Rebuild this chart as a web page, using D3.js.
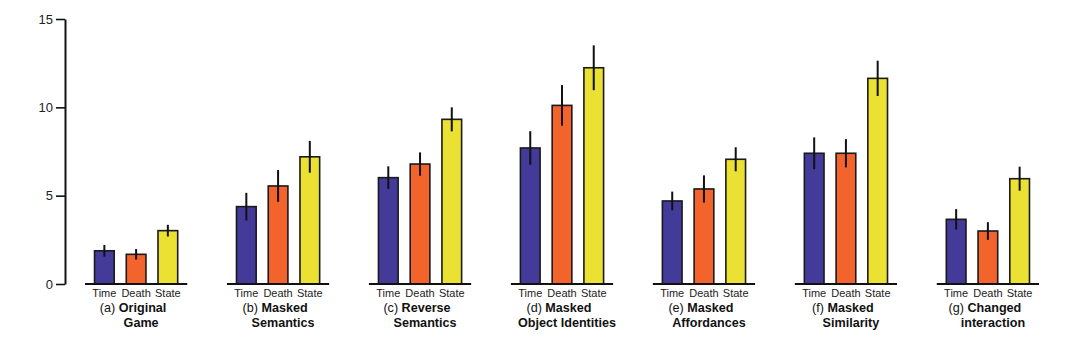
<!DOCTYPE html>
<html>
<head>
<meta charset="utf-8">
<script src="https://cdn.jsdelivr.net/npm/d3@7"></script>
<style>
  html, body { margin: 0; padding: 0; background: #ffffff; }
  svg { display: block; }
</style>
</head>
<body>
<svg id="chart" width="1080" height="357"></svg>
<script>
// ---- data ----
const groups = ["a", "b", "c", "d", "e", "f", "g"];
const groupPrefix = ["(a) ", "(b) ", "(c) ", "(d) ", "(e) ", "(f) ", "(g) "];
const groupLine1 = ["Original", "Masked", "Reverse", "Masked", "Masked", "Masked", "Changed"];
const groupLine2 = ["Game", "Semantics", "Semantics", "Object Identities", "Affordances", "Similarity", "interaction"];
const measures = ["Time", "Death", "State"];
const timeVals  = [1.88, 4.38, 6.02, 7.70, 4.70, 7.40, 3.66];
const deathVals = [1.68, 5.55, 6.79, 10.11, 5.38, 7.40, 3.00];
const stateVals = [3.02, 7.20, 9.32, 12.24, 7.06, 11.64, 5.96];
const timeErr   = [0.33, 0.78, 0.64, 0.95, 0.53, 0.90, 0.58];
const deathErr  = [0.30, 0.90, 0.66, 1.15, 0.77, 0.80, 0.50];
const stateErr  = [0.33, 0.90, 0.68, 1.27, 0.68, 1.00, 0.68];
const yTicks = [0, 5, 10, 15];
const colors = ["#433a9a", "#f2642c", "#ebe133"];

// ---- build ----
const valuesBy = [timeVals, deathVals, stateVals];
const errsBy = [timeErr, deathErr, stateErr];
const rows = [];
groups.forEach((g, gi) => {
  measures.forEach((m, mi) => {
    rows.push({ g, gi, m, mi, v: valuesBy[mi][gi], e: errsBy[mi][gi] });
  });
});

const svg = d3.select("#chart");
const font = "'Liberation Sans', Arial, Helvetica, sans-serif";

const y = d3.scaleLinear().domain([0, 15]).range([284, 19]);
const x0 = d3.scaleBand().domain(groups).range([85, 1039]).paddingInner(0.28).paddingOuter(0);
const x1 = d3.scaleBand().domain(measures).range([0, x0.bandwidth()]).paddingInner(0.38).paddingOuter(0.3);
const color = d3.scaleOrdinal().domain(measures).range(colors);

// y axis
const yAxis = d3.axisLeft(y).tickValues(yTicks).tickSize(9).tickSizeOuter(0).tickPadding(3);
const ax = svg.append("g").attr("transform", "translate(65,0)").call(yAxis);
ax.select(".domain").attr("stroke", "#111").attr("stroke-width", 2);
ax.selectAll(".tick line").attr("stroke", "#111").attr("stroke-width", 1.6);
ax.selectAll(".tick text").attr("font-family", font).attr("font-size", 13).attr("fill", "#222");

// groups
const gg = svg.selectAll("g.grp").data(groups).enter().append("g")
  .attr("class", "grp")
  .attr("transform", d => `translate(${x0(d)},0)`);

// bars
gg.selectAll("rect").data(g => rows.filter(r => r.g === g)).enter().append("rect")
  .attr("x", d => x1(d.m))
  .attr("width", x1.bandwidth())
  .attr("y", d => y(d.v))
  .attr("height", d => y(0) - y(d.v))
  .attr("fill", d => color(d.m))
  .attr("stroke", "#1a1a1a")
  .attr("stroke-width", 1.6);

// error bars
gg.selectAll("line.err").data(g => rows.filter(r => r.g === g)).enter().append("line")
  .attr("class", "err")
  .attr("x1", d => x1(d.m) + x1.bandwidth() / 2)
  .attr("x2", d => x1(d.m) + x1.bandwidth() / 2)
  .attr("y1", d => y(d.v + d.e))
  .attr("y2", d => y(d.v - d.e))
  .attr("stroke", "#111")
  .attr("stroke-width", 2);

// baselines
gg.append("line")
  .attr("x1", 0).attr("x2", x0.bandwidth())
  .attr("y1", y(0)).attr("y2", y(0))
  .attr("stroke", "#111").attr("stroke-width", 2);

// category labels
gg.selectAll("text.cat").data(measures).enter().append("text")
  .attr("class", "cat")
  .attr("x", m => x1(m) + x1.bandwidth() / 2)
  .attr("y", 297)
  .attr("text-anchor", "middle")
  .attr("font-family", font).attr("font-size", 11).attr("fill", "#222")
  .text(m => m);

// group labels
gg.each(function (g, gi) {
  const sel = d3.select(this);
  const cx = x0.bandwidth() / 2;
  const t1 = sel.append("text")
    .attr("x", cx - 3).attr("y", 312)
    .attr("text-anchor", "middle")
    .attr("font-family", font).attr("font-size", 12.6).attr("fill", "#111");
  t1.append("tspan").text(groupPrefix[gi]);
  t1.append("tspan").attr("font-weight", "bold").text(groupLine1[gi]);
  sel.append("text")
    .attr("x", cx + 5).attr("y", 327)
    .attr("text-anchor", "middle")
    .attr("font-family", font).attr("font-size", 12.6).attr("font-weight", "bold").attr("fill", "#111")
    .text(groupLine2[gi]);
});
</script>
</body>
</html>
